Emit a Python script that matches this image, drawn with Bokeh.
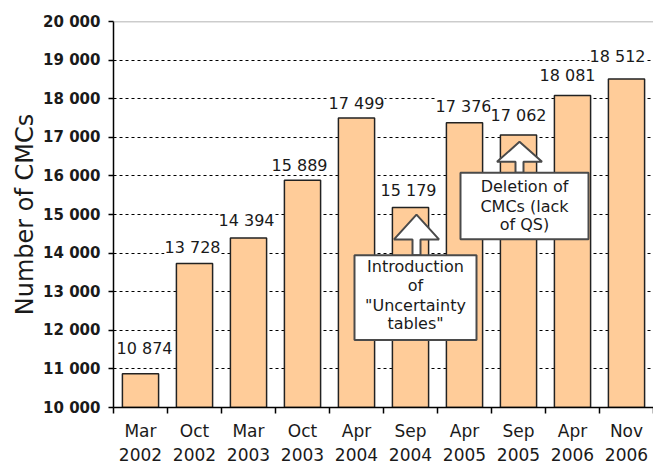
from bokeh.plotting import figure
from bokeh.models import ColumnDataSource, FixedTicker, LabelSet, Span, Range1d
from bokeh.core.properties import value
from bokeh.embed import file_html
from bokeh.resources import INLINE

# ---- data ----
months = ["Mar", "Oct", "Mar", "Oct", "Apr", "Sep", "Apr", "Sep", "Apr", "Nov"]
years = ["2002", "2002", "2003", "2003", "2004", "2004", "2005", "2005", "2006", "2006"]
cmcs = [10874, 13728, 14394, 15889, 17499, 15179, 17376, 17062, 18081, 18512]
value_labels = ["10 874", "13 728", "14 394", "15 889", "17 499",
                "15 179", "17 376", "17 062", "18 081", "18 512"]
y_ticks = [10000, 11000, 12000, 13000, 14000, 15000, 16000, 17000, 18000, 19000, 20000]
y_tick_labels = ["10 000", "11 000", "12 000", "13 000", "14 000", "15 000",
                 "16 000", "17 000", "18 000", "19 000", "20 000"]
y_label = "Number of CMCs"

callout_bar = [5, 7]  # Sep 2004, Sep 2005
callout_text = [["Introduction", "of", "\"Uncertainty", "tables\""],
                ["Deletion of", "CMCs (lack", "of QS)"]]

# ---- layout / style (pixels) ----
FONT = "DejaVu Sans"
TXT = "#1a1a1a"
W, H = 653, 468
ML, MR, MT, MB = 113, 0, 21, 59
n = len(cmcs)
y0, y1 = y_ticks[0], y_ticks[-1]
frame_w = W - ML - MR
frame_h = H - MT - MB
sx = frame_w / n            # px per category
sy = frame_h / (y1 - y0)    # px per CMC

# value-label nudges in px (label placement as in the original)
label_dx = [4, -2, -2, -3, 0, -2, -1, 0, -5, -9]
label_dy = [25, 16, 17, 15, 15, 17, 16, 19, 20, 22]

# callout geometry, offsets in px relative to bar centre / bar top (down positive)
callout_geom = [
    dict(ax=6, tip=7, head=32, hw=22.5, sw=4, btop=48, bbot=133, bx=5, bhw=61, lines=[59, 78, 98, 117]),
    dict(ax=1, tip=7, head=27, hw=22.5, sw=4, btop=38, bbot=105, bx=6, bhw=64, lines=[52, 72, 90]),
]

xs = [i + 0.5 for i in range(n)]
src = ColumnDataSource(dict(x=xs, top=cmcs, label=value_labels,
                            dx=label_dx, dy=label_dy))

p = figure(width=W, height=H, x_range=Range1d(0, n), y_range=Range1d(y0, y1),
           output_backend="svg", toolbar_location=None,
           min_border_left=ML, min_border_right=MR, min_border_top=MT, min_border_bottom=MB)
p.outline_line_color = None
p.background_fill_color = "white"
p.border_fill_color = "white"

# grid
p.xgrid.grid_line_color = None
p.ygrid.ticker = FixedTicker(ticks=y_ticks[1:-1])
p.ygrid.grid_line_color = "black"
p.ygrid.grid_line_dash = "3 3"
p.ygrid.grid_line_width = 1
p.add_layout(Span(location=y1, dimension="width", line_color="#9a9a9a", line_width=1.5))

# bars
p.vbar(x="x", top="top", bottom=y0, width=0.67, source=src,
       fill_color="#FFCC99", line_color="#222222", line_width=1.5)

# value labels
p.add_layout(LabelSet(x="x", y="top", text="label", source=src,
                      x_offset="dx", y_offset="dy",
                      text_align="center", text_baseline="middle",
                      text_font=value(FONT), text_font_size=value("16px"), text_color=TXT,
                      background_fill_color="white"))

# x axis
xa = p.xaxis[0]
xa.ticker = FixedTicker(ticks=xs, minor_ticks=list(range(n + 1)))
xa.major_label_overrides = {x: f"{m}\n{y}" for x, m, y in zip(xs, months, years)}
xa.major_tick_line_color = None
xa.major_tick_out = 6
xa.major_tick_in = 0
xa.minor_tick_line_color = "black"
xa.minor_tick_out = 6
xa.minor_tick_in = 0
xa.minor_tick_line_width = 1.5
xa.axis_line_color = "black"
xa.axis_line_width = 1.5
xa.major_label_text_font = FONT
xa.major_label_text_font_size = "17px"
xa.major_label_text_color = TXT
xa.major_label_text_line_height = 1.24
xa.major_label_standoff = 7

# y axis
ya = p.yaxis[0]
ya.ticker = FixedTicker(ticks=y_ticks)
ya.major_label_overrides = {t: l for t, l in zip(y_ticks, y_tick_labels)}
ya.minor_tick_line_color = None
ya.major_tick_out = 5
ya.major_tick_in = 0
ya.major_tick_line_width = 1.5
ya.major_tick_line_color = "black"
ya.axis_line_color = "black"
ya.axis_line_width = 1.5
ya.major_label_text_font = FONT
ya.major_label_text_font_size = "15px"
ya.major_label_text_font_style = "bold"
ya.major_label_text_color = TXT
ya.major_label_standoff = 8
ya.axis_label = y_label
ya.axis_label_text_font = FONT
ya.axis_label_text_font_size = "24px"
ya.axis_label_text_font_style = "normal"
ya.axis_label_text_color = TXT
ya.axis_label_standoff = 1

# callouts
for bi, lines, g in zip(callout_bar, callout_text, callout_geom):
    cx = xs[bi]
    top = cmcs[bi]
    X = lambda d: cx + d / sx
    Y = lambda d: top - d / sy
    ax = g["ax"]
    arrow_x = [X(ax), X(ax + g["hw"]), X(ax + g["sw"]), X(ax + g["sw"]),
               X(ax - g["sw"]), X(ax - g["sw"]), X(ax - g["hw"])]
    arrow_y = [Y(g["tip"]), Y(g["head"]), Y(g["head"]), Y(g["btop"]),
               Y(g["btop"]), Y(g["head"]), Y(g["head"])]
    p.patch(arrow_x, arrow_y, fill_color="white", line_color="#4a4a4a", line_width=2)
    p.quad(left=[X(g["bx"] - g["bhw"])], right=[X(g["bx"] + g["bhw"])],
           top=[Y(g["btop"])], bottom=[Y(g["bbot"])],
           fill_color="white", line_color="#4a4a4a", line_width=2)
    p.text(x=[X(g["bx"])] * len(lines), y=[Y(d) for d in g["lines"]], text=lines,
           text_align="center", text_baseline="middle",
           text_font=value(FONT), text_font_size="16px", text_color=TXT)

open("out.html", "w").write(file_html(p, INLINE))
